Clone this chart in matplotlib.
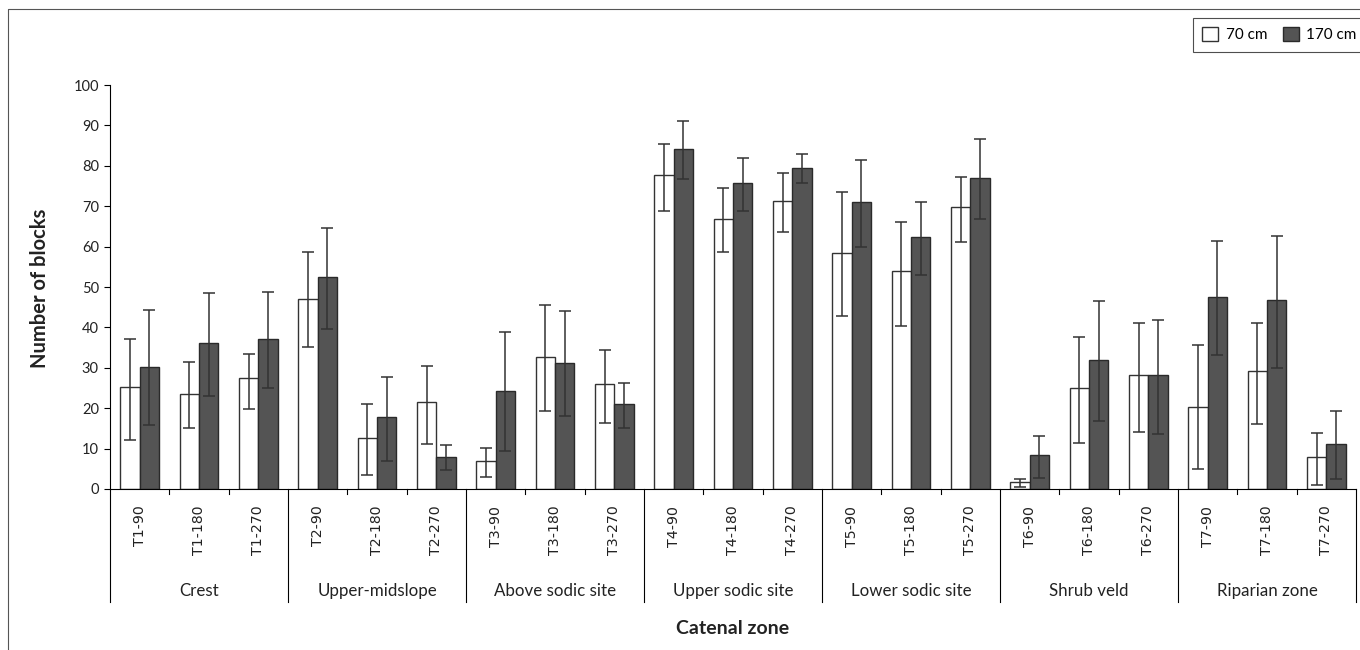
import matplotlib.pyplot as plt
import matplotlib.transforms as mtransforms
from matplotlib.lines import Line2D
import numpy as np

zones = ['Crest', 'Upper-midslope', 'Above sodic site', 'Upper sodic site',
         'Lower sodic site', 'Shrub veld', 'Riparian zone']
sites = ['T1-90', 'T1-180', 'T1-270', 'T2-90', 'T2-180', 'T2-270',
         'T3-90', 'T3-180', 'T3-270', 'T4-90', 'T4-180', 'T4-270',
         'T5-90', 'T5-180', 'T5-270', 'T6-90', 'T6-180', 'T6-270',
         'T7-90', 'T7-180', 'T7-270']

# 70 cm series (mean, lower and upper end of error bar)
cm70 = [25.2, 23.6, 27.4, 47.1, 12.6, 21.5, 7.0, 32.7, 26.1, 77.8, 66.8, 71.3,
        58.5, 53.9, 69.7, 1.7, 24.9, 28.1, 20.4, 29.2, 7.8]
cm70_lo = [12.2, 15.1, 19.9, 35.1, 3.5, 11.2, 3.0, 19.3, 16.3, 68.9, 58.7, 63.5,
           42.9, 40.4, 61.1, 0.6, 11.5, 14.0, 5.0, 16.0, 1.0]
cm70_hi = [37.2, 31.4, 33.3, 58.7, 21.0, 30.5, 10.2, 45.5, 34.4, 85.5, 74.4, 78.1,
           73.5, 66.2, 77.3, 2.4, 37.6, 41.2, 35.6, 41.2, 13.9]

# 170 cm series
cm170 = [30.2, 36.1, 37.2, 52.4, 17.9, 8.0, 24.3, 31.3, 21.1, 84.1, 75.7, 79.5,
         71.0, 62.3, 77.1, 8.4, 32.0, 28.1, 47.5, 46.8, 11.2]
cm170_lo = [15.8, 23.1, 25.0, 39.6, 7.0, 4.7, 9.4, 18.0, 15.0, 76.7, 68.9, 75.7,
            59.8, 52.9, 66.8, 2.7, 16.9, 13.7, 33.2, 30.0, 2.5]
cm170_hi = [44.2, 48.6, 48.8, 64.5, 27.8, 10.8, 38.9, 44.0, 26.2, 91.2, 81.9, 82.9,
            81.4, 71.0, 86.6, 13.0, 46.5, 41.9, 61.3, 62.7, 19.3]

txt_font = ['Lato', 'DejaVu Sans']

fig = plt.figure(figsize=(13.6, 6.5), dpi=100)
ax = fig.add_axes([0.0809, 0.2477, 0.9162, 0.6215])

x = np.arange(len(sites))
w = 0.325
v70, v170 = np.array(cm70), np.array(cm170)
err70 = [v70 - np.array(cm70_lo), np.array(cm70_hi) - v70]
err170 = [v170 - np.array(cm170_lo), np.array(cm170_hi) - v170]
ekw = dict(ecolor='#333333', elinewidth=1.1, capsize=4, capthick=1.1)
b1 = ax.bar(x - w / 2, v70, w, yerr=err70, color='white', edgecolor='#333333',
            linewidth=1.0, error_kw=ekw, label='70 cm')
b2 = ax.bar(x + w / 2, v170, w, yerr=err170, color='#545454', edgecolor='#2a2a2a',
            linewidth=1.0, error_kw=ekw, label='170 cm')

ax.set_xlim(-0.5, len(sites) - 0.5)
ax.set_ylim(0, 100)
ax.set_yticks(range(0, 101, 10))
ax.tick_params(axis='y', length=4, width=0.8, pad=4, labelsize=10.5, labelcolor='#222222')
ax.set_xticks(x)
ax.set_xticklabels(sites, rotation=90)
ax.tick_params(axis='x', length=0, pad=12, labelsize=10.2, labelcolor='#222222')
for t in ax.get_yticklabels():
    t.set_fontfamily(txt_font)
for t in ax.get_xticklabels():
    t.set_fontfamily('DejaVu Sans')
for s in ['top', 'right']:
    ax.spines[s].set_visible(False)
ax.spines['left'].set_linewidth(0.8)
ax.spines['bottom'].set_linewidth(0.8)

# multi-level category axis
trans = mtransforms.blended_transform_factory(ax.transData, ax.transAxes)
for i in range(len(sites) + 1):
    b = i - 0.5
    if i % 3 == 0:
        ax.plot([b, b], [0, -0.28], transform=trans, color='black', lw=0.8, clip_on=False)
    else:
        ax.plot([b, b], [0, -0.013], transform=trans, color='black', lw=0.8, clip_on=False)
for k, z in enumerate(zones):
    ax.text(3 * k + 1, -0.252, z, transform=trans, ha='center', va='center',
            fontsize=12.2, fontfamily=txt_font, color='#222222')

fig.text(733 / 1360, 1 - 629 / 650, 'Catenal zone', ha='center', va='center',
         fontsize=14, fontweight='bold', fontfamily=txt_font, color='#222222')
fig.text(40 / 1360, 1 - 288 / 650, 'Number of blocks', ha='center', va='center',
         rotation=90, fontsize=14.5, fontweight='bold', fontfamily=txt_font, color='#222222')

# outer frame
fig.add_artist(Line2D([8 / 1360, 8 / 1360, 1.01], [0, 1 - 9 / 650, 1 - 9 / 650],
                      transform=fig.transFigure, color='#555555', lw=0.8))

leg = fig.legend([b1, b2], ['70 cm', '170 cm'], loc='upper right',
                 bbox_to_anchor=(1366 / 1360, 1 - 18 / 650), borderaxespad=0, ncol=2,
                 frameon=True, fancybox=False, edgecolor='#222222',
                 handlelength=1.05, handleheight=1.05, handletextpad=0.5,
                 columnspacing=1.0, borderpad=0.6,
                 prop={'family': txt_font, 'size': 11})
leg.get_frame().set_linewidth(0.8)

fig.savefig('out.png', dpi=100)
